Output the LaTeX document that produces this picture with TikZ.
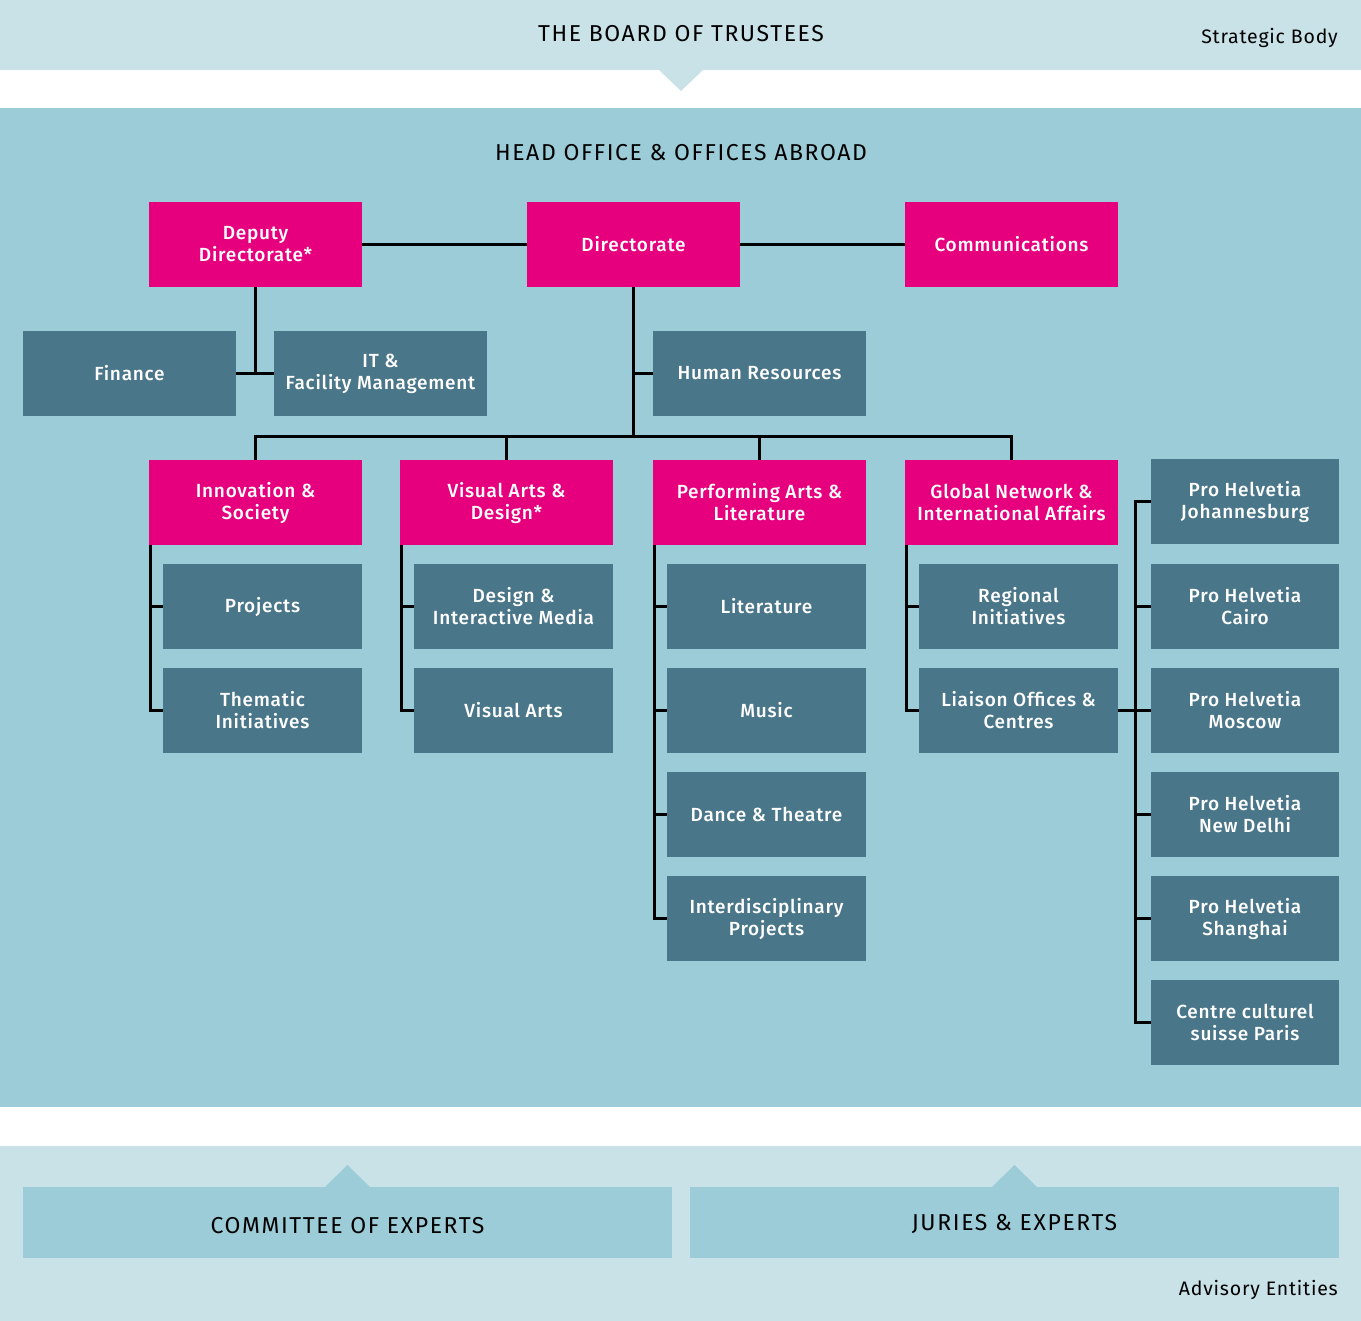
\documentclass[tikz,border=0pt]{standalone}
\usepackage{fontspec}
\setmainfont{Fira Sans}
\newfontfamily\boxfont[LetterSpace=4]{Fira Sans Medium}
\newfontfamily\headfont[LetterSpace=7]{Fira Sans}
\newfontfamily\sidefont[LetterSpace=4]{Fira Sans}
\definecolor{lightband}{HTML}{C8E2E8}
\definecolor{mainband}{HTML}{9BCCD8}
\definecolor{darkbox}{HTML}{4A7689}
\definecolor{magentabox}{HTML}{E6007E}
\begin{document}
\begin{tikzpicture}[x=1pt,y=-1pt,
  base/.style={inner sep=0pt,align=center,text=white,font=\boxfont\fontsize{19}{22}\selectfont,minimum height=85pt},
  mag/.style={base,fill=magentabox,minimum width=213pt},
  dark/.style={base,fill=darkbox,minimum width=213pt},
  sub/.style={base,fill=darkbox,minimum width=199pt},
  ph/.style={base,fill=darkbox,minimum width=188pt},
  conn/.style={draw=black,line width=3pt},
  head/.style={font=\headfont\fontsize{23}{26}\selectfont,text=black,inner sep=0pt},
  side/.style={font=\sidefont\fontsize{19.5}{22}\selectfont,text=black,inner sep=0pt,anchor=east}
]
\useasboundingbox (0,0) rectangle (1361,1321);
% bands
\fill[lightband] (0,0) rectangle (1361,70);
\fill[lightband] (659,70) -- (703,70) -- (681,91) -- cycle;
\fill[mainband] (0,108) rectangle (1361,1107);
\fill[lightband] (0,1146) rectangle (1361,1321);
\fill[mainband] (23,1187) rectangle (672,1258);
\fill[mainband] (325,1187) -- (370,1187) -- (347.5,1165) -- cycle;
\fill[mainband] (690,1187) rectangle (1339,1258);
\fill[mainband] (992,1187) -- (1037,1187) -- (1014.5,1165) -- cycle;

% headers
\node[head] (board) at (681,34) {THE BOARD OF TRUSTEES};
\node[side] (strat) at (1338,38) {Strategic Body};
\node[head] (headoffice) at (681,153) {HEAD OFFICE \& OFFICES ABROAD};
\node[head] (committee) at (347.5,1226) {COMMITTEE OF EXPERTS};
\node[head] (juries) at (1014.5,1224) {JURIES \& EXPERTS};
\node[side] (advisory) at (1338,1290) {Advisory Entities};

% top level
\node[mag] (deputy) at (255.5,244.5) {Deputy\\Directorate*};
\node[mag] (dir) at (633.5,244.5) {Directorate};
\node[mag] (comm) at (1011.5,244.5) {Communications};
\node[dark] (fin) at (129.5,373.5) {Finance};
\node[dark] (it) at (380.5,373.5) {IT \&\\Facility Management};
\node[dark] (hr) at (759.5,373.5) {Human Resources};

% divisions
\node[mag] (innov) at (255.5,502.5) {Innovation \&\\Society};
\node[mag] (vad) at (506.5,502.5) {Visual Arts \&\\Design*};
\node[mag] (pal) at (759.5,502.5) {Performing Arts \&\\Literature};
\node[mag] (gn) at (1011.5,502.5) {Global Network \&\\International Affairs};

\node[sub] (proj) at (262.5,606.5) {Projects};
\node[sub] (them) at (262.5,710.5) {Thematic\\Initiatives};
\node[sub] (dim) at (513.5,606.5) {Design \&\\Interactive Media};
\node[sub] (va) at (513.5,710.5) {Visual Arts};
\node[sub] (lit) at (766.5,606.5) {Literature};
\node[sub] (mus) at (766.5,710.5) {Music};
\node[sub] (dance) at (766.5,814.5) {Dance \& Theatre};
\node[sub] (inter) at (766.5,918.5) {Interdisciplinary\\Projects};
\node[sub] (reg) at (1018.5,606.5) {Regional\\Initiatives};
\node[sub] (liai) at (1018.5,710.5) {Liaison Offices \&\\Centres};

\node[ph] (ph1) at (1245,501.5) {Pro Helvetia\\Johannesburg};
\node[ph] (ph2) at (1245,606.5) {Pro Helvetia\\Cairo};
\node[ph] (ph3) at (1245,710.5) {Pro Helvetia\\Moscow};
\node[ph] (ph4) at (1245,814.5) {Pro Helvetia\\New Delhi};
\node[ph] (ph5) at (1245,918.5) {Pro Helvetia\\Shanghai};
\node[ph] (ph6) at (1245,1022.5) {Centre culturel\\suisse Paris};

\coordinate (bus) at (633,437);
\coordinate (phbus) at (1135,0);

% connectors
\draw[conn] (deputy.east) -- (dir.west);
\draw[conn] (dir.east) -- (comm.west);
\draw[conn] (deputy.south) |- (fin.east);
\draw[conn] (deputy.south) |- (it.west);
\draw[conn] (dir.south) |- (hr.west);
\draw[conn] (dir.south) -- (dir.south |- bus);
\draw[conn] (innov.north) -- (innov.north |- bus) -- (gn.north |- bus) -- (gn.north);
\draw[conn] (vad.north) -- (vad.north |- bus);
\draw[conn] (pal.north) -- (pal.north |- bus);

\draw[conn] ([xshift=1.5pt]innov.south west) |- (proj.west);
\draw[conn] ([xshift=1.5pt]innov.south west) |- (them.west);
\draw[conn] ([xshift=1.5pt]vad.south west) |- (dim.west);
\draw[conn] ([xshift=1.5pt]vad.south west) |- (va.west);
\draw[conn] ([xshift=1.5pt]pal.south west) |- (lit.west);
\draw[conn] ([xshift=1.5pt]pal.south west) |- (mus.west);
\draw[conn] ([xshift=1.5pt]pal.south west) |- (dance.west);
\draw[conn] ([xshift=1.5pt]pal.south west) |- (inter.west);
\draw[conn] ([xshift=1.5pt]gn.south west) |- (reg.west);
\draw[conn] ([xshift=1.5pt]gn.south west) |- (liai.west);

\draw[conn] (ph1.west) -- (ph1.west -| phbus) -- (ph6.west -| phbus) -- (ph6.west);
\draw[conn] (ph2.west) -- (ph2.west -| phbus);
\draw[conn] (ph3.west) -- (ph3.west -| phbus);
\draw[conn] (ph4.west) -- (ph4.west -| phbus);
\draw[conn] (ph5.west) -- (ph5.west -| phbus);
\draw[conn] (liai.east) -- (ph3.west);
\end{tikzpicture}
\end{document}
